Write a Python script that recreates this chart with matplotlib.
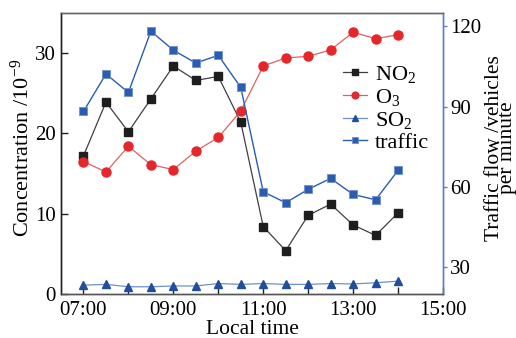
import matplotlib
matplotlib.use("Agg")
import matplotlib.pyplot as plt
from matplotlib.ticker import FixedLocator, NullFormatter

plt.rcParams['font.family'] = ['Liberation Serif', 'DejaVu Serif']
plt.rcParams['mathtext.fontset'] = 'custom'
plt.rcParams['mathtext.rm'] = 'Liberation Serif'
plt.rcParams['mathtext.it'] = 'Liberation Serif:italic'
plt.rcParams['mathtext.bf'] = 'Liberation Serif:bold'

# time in hours
hours = [7.0, 7.5, 8.0, 8.5, 9.0, 9.5, 10.0, 10.5, 11.0, 11.5, 12.0, 12.5, 13.0, 13.5, 14.0]
no2 = [17.2, 23.9, 20.2, 24.3, 28.4, 26.6, 27.1, 21.4, 8.4, 5.4, 9.8, 11.2, 8.6, 7.3, 10.1]
o3 = [16.5, 15.2, 18.4, 16.1, 15.5, 17.8, 19.5, 22.8, 28.4, 29.4, 29.6, 30.4, 32.6, 31.8, 32.3]
so2 = [1.1, 1.2, 0.9, 0.9, 1.0, 1.0, 1.3, 1.2, 1.3, 1.2, 1.2, 1.3, 1.25, 1.4, 1.6]
traffic = [88.2, 102.2, 95.3, 118.2, 111.1, 106.3, 109.2, 97.2, 58.2, 54.1, 59.1, 63.2, 57.2, 55.2, 66.2]

xtick_pos = [7, 9, 11, 13, 15]
xtick_labels = ["07:00", "09:00", "11:00", "13:00", "15:00"]
xminor_pos = [8, 10, 12, 14]
left_ticks = [0, 10, 20, 30]
right_ticks = [30, 60, 90, 120]

fig = plt.figure(figsize=(5.16, 3.38), dpi=100)
ax = fig.add_axes([61/516, 1-294/338, (443-61)/516, (294-13)/338])
ax2 = ax.twinx()

c_no2 = '#1e1e1e'
c_o3 = '#e5262b'
c_so2 = '#1f4e9c'
c_tr = '#2a5cb0'

l1, = ax.plot(hours, no2, color='#404040', lw=0.9, marker='s', ms=5.5,
              mfc=c_no2, mec=c_no2, label='NO$_2$', zorder=3)
l2, = ax.plot(hours, o3, color='#e06060', lw=0.9, marker='o', ms=6.5,
              mfc=c_o3, mec=c_o3, label='O$_3$', zorder=3)
l3, = ax.plot(hours, so2, color='#6f8fcf', lw=0.9, marker='^', ms=6,
              mfc=c_so2, mec=c_so2, label='SO$_2$', zorder=3, clip_on=False)
l4, = ax2.plot(hours, traffic, color=c_tr, lw=1.0, marker='s', ms=5.5,
               mfc=c_tr, mec='#6d8fd0', mew=0.6, label='traffic', zorder=3)

ax.set_xlim(6.5, 15)
ax.set_ylim(0, 35)
ax2.set_ylim(20, 125)

ax.xaxis.set_major_locator(FixedLocator(xtick_pos))
ax.set_xticklabels(xtick_labels)
ax.xaxis.set_minor_locator(FixedLocator(xminor_pos))
ax.xaxis.set_minor_formatter(NullFormatter())
ax.set_yticks(left_ticks)
ax2.set_yticks(right_ticks)

ax.tick_params(axis='x', which='both', direction='in', length=5, width=1.0,
               labelsize=15, pad=5, color='#222222', top=False)
ax.tick_params(axis='y', direction='in', length=5, width=1.0, labelsize=15,
               pad=4, color='#222222', right=False)
ax2.tick_params(axis='y', direction='out', length=3, width=1.0, labelsize=15,
                pad=2, color='#5b7fc0')

for a in (ax, ax2):
    a.spines['top'].set_color('#666666')
    a.spines['left'].set_color('#222222')
    a.spines['bottom'].set_color('#555555')
    a.spines['right'].set_color('#5b7fc0')
    for s in a.spines.values():
        s.set_linewidth(1.0)

ax.set_xlabel('Local time', fontsize=15.5, labelpad=0)
ax.set_ylabel('Concentration /10$^{-9}$', fontsize=16, va='center')
ax.yaxis.set_label_coords((22 - 61) / 382, 0.518)
ax2.set_ylabel('Traffic flow /vehicles\nper minute', fontsize=15.5,
               linespacing=0.62, va='center')
ax2.yaxis.set_label_coords((501 - 61) / 382, 0.52)

ax2.set_zorder(ax.get_zorder() + 1)
ax2.patch.set_visible(False)

leg = ax2.legend([l1, l2, l3, l4], ['NO$_2$', 'O$_3$', 'SO$_2$', 'traffic'],
                 loc='upper left', bbox_to_anchor=(0.715, 0.85), frameon=False,
                 fontsize=16, handlelength=1.1, handletextpad=0.35,
                 labelspacing=0.08, borderaxespad=0, markerscale=0.75)

fig.savefig('out.png', dpi=100)
